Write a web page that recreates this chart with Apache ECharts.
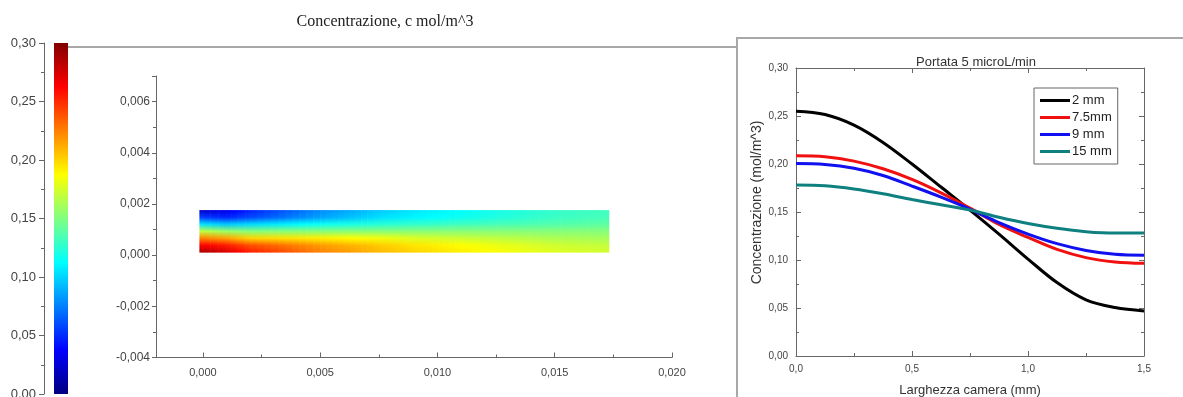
<!DOCTYPE html>
<html>
<head>
<meta charset="utf-8">
<script src="https://cdn.jsdelivr.net/npm/echarts@6/dist/echarts.min.js"></script>
<style>
    html, body { margin: 0; padding: 0; background: #fff; }
    #chart { width: 1183px; height: 397px; }
</style>
</head>
<body>
<div id="chart"></div>
<script>
// scala colori (mol/m^3)
var cMax = 0.30;
var jetColors = ['#000080', '#0000ff', '#0080ff', '#00ffff', '#80ff80', '#ffff00', '#ff8000', '#ff0000', '#800000'];

// campo di concentrazione: nodi x, y (m), valori per colonna dal basso verso l'alto
var heatX = [-0.00015, 0.001, 0.002, 0.005, 0.0075, 0.009, 0.0115, 0.015, 0.0173];
var heatY = [0.0001, 0.00038, 0.00066, 0.00093, 0.00121, 0.00148, 0.00176];
var heatC = [
    [0.290, 0.265, 0.225, 0.170, 0.105, 0.055, 0.020],
    [0.275, 0.255, 0.215, 0.158, 0.095, 0.048, 0.032],
    [0.255, 0.240, 0.200, 0.152, 0.101, 0.058, 0.047],
    [0.225, 0.217, 0.192, 0.153, 0.115, 0.085, 0.078],
    [0.2085, 0.203, 0.184, 0.153, 0.1235, 0.103, 0.0965],
    [0.2005, 0.195, 0.177, 0.153, 0.127, 0.110, 0.105],
    [0.190, 0.186, 0.171, 0.153, 0.132, 0.118, 0.115],
    [0.178, 0.1735, 0.163, 0.152, 0.137, 0.1295, 0.128],
    [0.174, 0.170, 0.161, 0.152, 0.140, 0.133, 0.131]
];

// profili, portata 5 microL/min
var larghezza = [0, 0.125, 0.25, 0.375, 0.5, 0.625, 0.75, 0.875, 1.0, 1.125, 1.25, 1.375, 1.5];
var c2mm = [0.255, 0.2515, 0.2405, 0.2225, 0.200, 0.176, 0.152, 0.127, 0.101, 0.0765, 0.0585, 0.0505, 0.047];
var c75mm = [0.2085, 0.2075, 0.203, 0.195, 0.184, 0.170, 0.154, 0.137, 0.1235, 0.111, 0.1025, 0.098, 0.0965];
var c9mm = [0.2005, 0.1995, 0.1955, 0.188, 0.177, 0.1655, 0.153, 0.139, 0.127, 0.117, 0.110, 0.106, 0.105];
var c15mm = [0.178, 0.1773, 0.174, 0.169, 0.163, 0.1575, 0.152, 0.1445, 0.138, 0.133, 0.1295, 0.128, 0.128];

var font = 'Liberation Sans, Arial, sans-serif';

const comma = (v, d) => v.toFixed(d).replace('.', ',');
const isStep = (v, step) => Math.abs(v / step - Math.round(v / step)) < 1e-6;

const jet = v => echarts.color.lerp(Math.max(0, Math.min(1, v / cMax)), jetColors);

const chart = echarts.init(document.getElementById('chart'));

const lineSeries = (name, values, color) => ({
    name: name,
    type: 'line',
    xAxisIndex: 2,
    yAxisIndex: 2,
    smooth: 0.35,
    symbol: 'none',
    lineStyle: { width: 3, color: color },
    itemStyle: { color: color },
    data: larghezza.map((x, k) => [x, values[k]])
});

const axisBase = {
    type: 'value',
    splitLine: { show: false },
    axisLine: { show: true, onZero: false, lineStyle: { color: '#666', width: 1 } },
    axisTick: { show: true, inside: true, length: 5, lineStyle: { color: '#666' } },
    minorTick: { show: true, splitNumber: 2, length: 3, lineStyle: { color: '#666' } },
    axisLabel: { fontFamily: font, fontSize: 10, color: '#444' }
};

const options = {
    animation: false,
    backgroundColor: '#fff',
    title: [
        {
            text: 'Concentrazione, c mol/m^3',
            left: 380,
            top: 9,
            textAlign: 'center',
            textStyle: { fontFamily: 'Liberation Serif, Times New Roman, serif', fontSize: 16, fontWeight: 'normal', color: '#222' }
        },
        {
            text: 'Portata 5 microL/min',
            left: 971,
            top: 51,
            textAlign: 'center',
            textStyle: { fontFamily: font, fontSize: 13, fontWeight: 'normal', color: '#333' }
        }
    ],
    legend: {
        data: ['2 mm', '7.5mm', '9 mm', '15 mm'],
        icon: 'rect',
        orient: 'vertical',
        left: 1034,
        top: 88,
        padding: [5, 6, 5, 6],
        itemGap: 2,
        itemWidth: 30,
        itemHeight: 3,
        borderColor: '#666',
        borderWidth: 1,
        textStyle: { fontFamily: font, fontSize: 13, lineHeight: 15, color: '#222', padding: [0, 0, 0, -3] }
    },
    grid: [
        { left: 54, width: 14, top: 43, height: 351, outerBoundsMode: 'none', containLabel: false },   // barra colori
        { left: 156, right: 511, top: 76, bottom: 39.5, outerBoundsMode: 'none', containLabel: false }, // campo
        { left: 796, right: 39, top: 68, bottom: 41, outerBoundsMode: 'none', containLabel: false }     // profili
    ],
    xAxis: [
        { gridIndex: 0, type: 'value', min: 0, max: 1, show: false },
        {
            ...axisBase,
            gridIndex: 1,
            min: -0.002,
            max: 0.020,
            axisLabel: { ...axisBase.axisLabel, fontSize: 11, margin: 10, formatter: v => (isStep(v, 0.005) ? comma(v, 3) : '') }
        },
        {
            ...axisBase,
            gridIndex: 2,
            min: 0,
            max: 1.5,
            interval: 0.5,
            name: 'Larghezza camera (mm)',
            nameLocation: 'middle',
            nameGap: 28,
            nameTextStyle: { fontFamily: font, fontSize: 13, color: '#333' },
            axisLabel: { ...axisBase.axisLabel, margin: 8, formatter: v => comma(v, 1) }
        },
        {
            ...axisBase,
            gridIndex: 2,
            position: 'top',
            min: 0,
            max: 1.5,
            interval: 0.5,
            axisLabel: { show: false }
        }
    ],
    yAxis: [
        {
            ...axisBase,
            gridIndex: 0,
            min: 0,
            max: cMax,
            interval: 0.05,
            offset: 10,
            axisTick: { show: true, inside: false, length: 5, lineStyle: { color: '#666' } },
            axisLabel: { fontFamily: font, fontSize: 13, color: '#444', margin: 8, formatter: v => comma(v, 2) }
        },
        {
            ...axisBase,
            gridIndex: 1,
            min: -0.004,
            max: 0.007,
            interval: 0.002,
            axisTick: { show: true, inside: false, length: 4, lineStyle: { color: '#666' } },
            axisLabel: { ...axisBase.axisLabel, fontSize: 12, margin: 6, formatter: v => (isStep(v, 0.002) ? comma(v, 3) : '') }
        },
        {
            ...axisBase,
            gridIndex: 2,
            min: 0,
            max: 0.30,
            interval: 0.05,
            name: 'Concentrazione (mol/m^3)',
            nameLocation: 'middle',
            nameGap: 32,
            nameTextStyle: { fontFamily: font, fontSize: 14, color: '#333', padding: [0, 0, 0, 19] },
            axisLabel: { ...axisBase.axisLabel, margin: 8, formatter: v => comma(v, 2) }
        },
        {
            ...axisBase,
            gridIndex: 2,
            position: 'right',
            min: 0,
            max: 0.30,
            interval: 0.05,
            axisLabel: { show: false }
        }
    ],
    series: [
        {
            // barra dei colori
            type: 'custom',
            xAxisIndex: 0,
            yAxisIndex: 0,
            silent: true,
            data: [[0.5, 0, cMax]],
            encode: { x: 0, y: [1, 2] },
            renderItem: (params, api) => {
                const cs = params.coordSys;
                const top = api.coord([0, api.value(2)]);
                const bottom = api.coord([0, api.value(1)]);
                const stops = jetColors.map((c, k) => ({ offset: k / (jetColors.length - 1), color: c }));
                return {
                    type: 'rect',
                    shape: { x: cs.x, y: top[1], width: cs.width, height: bottom[1] - top[1] },
                    style: { fill: new echarts.graphic.LinearGradient(0, 1, 0, 0, stops) }
                };
            }
        },
        {
            // campo di concentrazione
            type: 'custom',
            xAxisIndex: 1,
            yAxisIndex: 1,
            silent: true,
            data: heatX.slice(0, -1).map((x, i) => [x, heatY[0], heatX[i + 1], heatY[heatY.length - 1], i]),
            encode: { x: [0, 2], y: [1, 3] },
            renderItem: (params, api) => {
                const i = api.value(4);
                const yBot = heatY[0];
                const yTop = heatY[heatY.length - 1];
                const parts = 10;
                const children = [];
                for (let k = 0; k < parts; k++) {
                    const t0 = k / parts;
                    const t1 = (k + 1) / parts;
                    const tm = (t0 + t1) / 2;
                    const xa = heatX[i] + (heatX[i + 1] - heatX[i]) * t0;
                    const xb = heatX[i] + (heatX[i + 1] - heatX[i]) * t1;
                    const p0 = api.coord([xa, yTop]);
                    const p1 = api.coord([xb, yBot]);
                    const stops = heatY.map((y, j) => ({
                        offset: (y - yBot) / (yTop - yBot),
                        color: jet(heatC[i][j] + (heatC[i + 1][j] - heatC[i][j]) * tm)
                    }));
                    children.push({
                        type: 'rect',
                        shape: { x: p0[0], y: p0[1], width: p1[0] - p0[0] + 0.6, height: p1[1] - p0[1] },
                        style: { fill: new echarts.graphic.LinearGradient(0, 1, 0, 0, stops) }
                    });
                }
                return { type: 'group', children: children };
            }
        },
        lineSeries('2 mm', c2mm, '#000000'),
        lineSeries('7.5mm', c75mm, '#f01010'),
        lineSeries('9 mm', c9mm, '#1010f0'),
        lineSeries('15 mm', c15mm, '#0f8080')
    ],
    graphic: [
        // cornici dei pannelli
        { type: 'line', shape: { x1: 68, y1: 47, x2: 737, y2: 47 }, style: { stroke: '#a8a8a8', lineWidth: 2 } },
        { type: 'polyline', shape: { points: [[737, 397], [737, 38], [1183, 38]] }, style: { stroke: '#a8a8a8', lineWidth: 2, fill: null } }
    ]
};

chart.setOption(options);
window.addEventListener('resize', () => chart.resize());
</script>
</body>
</html>
